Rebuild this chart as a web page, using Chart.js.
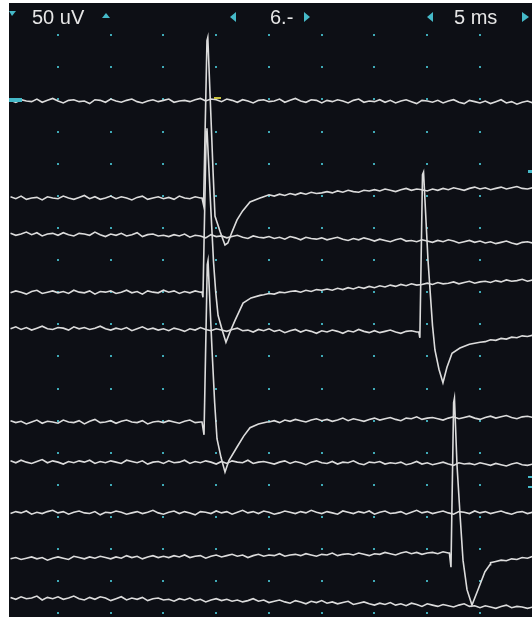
<!DOCTYPE html>
<html>
<head>
<meta charset="utf-8">
<script src="https://cdn.jsdelivr.net/npm/chart.js"></script>
<style>
  html, body { margin: 0; padding: 0; background: #ffffff; }
  canvas { display: block; }
</style>
</head>
<body>
<canvas id="emg" width="532" height="617"></canvas>
<script>
// header readouts of the recorder
const sensLabel = '50 uV';
const traceLabel = '6.-';
const sweepLabel = '5 ms';

const UV_PER_DIV = 50;     // vertical sensitivity
const MS_PER_DIV = 5;      // sweep speed
const SAMPLE_STEP = 0.5;   // ms between baseline readings (first reading at 0.5 ms)

// baseline position of each trace, in divisions from the bottom grid row
const traceOffsets = [15.95, 12.93, 11.81, 10.00, 8.76, 5.96, 4.71, 3.13, 1.76, 0.48];

// baseline readings in uV, every 0.5 ms (null = see spike detail below)
const trace1 = [
  1, -2, 2, 0, -1, 3, -2, 1, 4, 0,
  -3, 1, 2, -1, 0, -4, 2, 1, -2, 3,
  0, -2, 1, 3, -1, -3, 0, 2, -1, 1,
  3, -2, 0, 1, -1, 2, 4, 0, 3, 2,
  -1, 3, 1, -2, 2, 0, -3, 1, 2, -1,
  0, 3, -2, 1, 4, 0, -2, 2, 1, -3,
  1, -1, 2, 0, -3, 1, 3, -2, 0, -1,
  2, -2, 1, -3, 0, 2, -1, -4, 1, 0,
  -2, 1, -3, 0, 2, -2, -4, 1, -1, -3,
  0, -4, -1, 2, -3, -1, -5, -2, 0, -3
];
const trace2 = [
  2, -1, 3, -2, 0, 1, -3, 2, 0, -1,
  3, 0, -2, 1, 4, -1, 2, -2, 0, 3,
  -1, 2, 0, -3, 1, 3, -2, 0, 2, -1,
  1, -2, 3, 0, -1, 2, 0, null, null, null,
  null, null, null, null, null, null, null, null, 2, 5,
  3, 6, 4, 7, 5, 8, 6, 9, 7, 8,
  10, 8, 11, 9, 12, 10, 9, 12, 11, 13,
  11, 14, 12, 10, 13, 15, 12, 14, 13, 11,
  14, 12, 15, 13, 16, 14, 12, 15, 17, 14,
  16, 13, 15, 17, 14, 16, 18, 15, 14, 16
];
const trace3 = [
  1, -2, 0, 3, -1, 2, -3, 0, 1, -2,
  2, -1, -3, 1, 0, -2, 3, -1, -4, 0,
  -2, 1, -3, -1, 2, -4, -1, 0, -3, -2,
  -4, -1, -3, 0, -5, -2, -3, -6, -1, -4,
  -3, -6, -4, -2, -5, -7, -3, -5, -6, -4,
  -7, -5, -8, -4, -6, -9, -5, -7, -8, -6,
  -9, -7, -5, -8, -10, -7, -9, -6, -8, -11,
  -8, -10, -12, -9, -7, -11, -10, -12, -9, -11,
  -13, -10, -12, -9, -11, -14, -12, -10, -13, -11,
  -14, -12, -15, -13, -11, -14, -16, -13, -12, -14
];
const trace4 = [
  -1, 2, 0, -3, 1, 3, -2, 0, 2, -1,
  1, -2, 3, 0, -1, 2, -3, 1, 0, 2,
  -2, 0, 3, -1, 1, -3, 2, 0, -1, 3,
  0, 2, -2, 1, -1, 2, 0, null, null, null,
  null, null, null, null, null, null, null, null, -4, -2,
  -3, 0, -1, 1, 2, 0, 3, 1, 4, 3,
  5, 3, 6, 4, 7, 5, 8, 6, 9, 7,
  10, 8, 11, 9, 12, 10, 13, 11, 12, 14,
  12, 15, 13, 14, 16, 13, 15, 17, 14, 16,
  17, 15, 18, 16, 19, 17, 18, 20, 17, 19
];
const trace5 = [
  5, 8, 4, 7, 3, 6, 9, 5, 4, 7,
  6, 3, 8, 5, 7, 4, 6, 9, 5, 3,
  6, 4, 7, 2, 5, 8, 4, 6, 3, 5,
  2, 6, 4, 1, 5, 3, 7, 4, 2, 5,
  3, 1, 4, 6, 2, 3, 0, 4, 2, 5,
  1, 3, -1, 2, 4, 0, 3, 1, -2, 2,
  0, 3, 1, -2, 2, 0, 4, 1, -1, 2,
  -1, 1, 3, 0, -2, 1, 2, 0, null, null,
  null, null, null, null, null, null, null, null, null, null,
  -15, -12, -13, -10, -11, -8, -9, -6, -7, -5
];
const trace6 = [
  2, -1, 1, -3, 0, 3, -2, 1, 0, -2,
  3, 0, -1, 2, -3, 1, 4, -1, 0, 2,
  -2, 1, 3, 0, -1, 2, -3, 0, 1, -1,
  2, 0, -2, 1, 3, -1, 0, null, null, null,
  null, null, null, null, null, null, null, null, null, 0,
  2, -1, 3, 1, 4, 2, 0, 3, 5, 2,
  4, 1, 3, 6, 2, 5, 3, 1, 4, 6,
  3, 5, 7, 4, 2, 6, 5, 8, 4, 6,
  7, 5, 3, 6, 8, 5, 7, 9, 6, 4,
  7, 9, 6, 8, 10, 7, 5, 8, 9, 7
];
const trace7 = [
  2, -1, 3, 0, -2, 1, 4, -1, 2, 0,
  -3, 1, -1, 2, 0, 3, -2, 1, -1, 2,
  0, -2, 3, 1, -1, 2, -3, 0, 1, -2,
  2, -1, 0, 3, -2, 1, -1, 2, 0, -3,
  1, -2, 2, 0, -1, 3, -2, 0, 1, -1,
  -3, 0, 2, -2, 1, -1, -4, 0, 2, -1,
  -2, 1, -3, 0, -1, 2, -2, -4, 0, -1,
  1, -3, -1, -2, 0, -4, -2, 1, -3, -1,
  -4, -2, 0, -3, -5, -1, -3, -2, -4, -1,
  -3, -5, -2, -4, -6, -3, -1, -4, -5, -3
];
const trace8 = [
  -1, 2, 0, 3, -2, 1, -1, 2, 4, 0,
  2, -2, 1, 3, 0, -1, 2, -3, 1, 0,
  3, 1, -2, 0, 2, -1, 1, 4, 0, -2,
  1, 3, -1, 2, 0, -3, 2, 1, -1, 3,
  0, 2, -2, 1, 4, 0, 2, -1, 3, 1,
  -2, 0, 3, 1, -1, 2, 0, 4, 1, -1,
  2, 0, -2, 3, 1, -1, 2, 0, 3, -2,
  1, 3, -1, 0, 2, -2, 1, 4, 0, 2,
  -1, 1, 3, 0, -2, 2, 1, -1, 3, 0,
  2, -1, 1, 3, 0, -2, 1, 2, -1, 1
];
const trace9 = [
  -3, -1, -4, -2, 0, -3, -1, -5, -2, 0,
  -2, -4, 1, -1, -3, 0, -2, 1, -1, -3,
  0, -2, 2, -1, 1, -3, 0, 2, -1, 1,
  -1, 2, 0, 3, -1, 1, 2, -2, 1, 3,
  0, 2, 4, 1, 3, -1, 2, 4, 1, 3,
  2, 5, 1, 3, 4, 2, 5, 3, 1, 4,
  3, 6, 2, 4, 5, 3, 6, 4, 2, 5,
  4, 7, 5, 3, 6, 8, 5, 7, 4, 6,
  7, 5, 8, 6, null, null, null, null, null, null,
  null, -9, -7, -5, -6, -3, -4, -1, -2, 1
];
const trace10 = [
  1, -2, 2, -1, 0, 3, -3, 1, -1, 2,
  -2, 0, 3, -1, -3, 1, -2, 2, 0, -4,
  -1, 2, -3, 0, -2, 1, -4, -1, 0, -3,
  -2, -5, -1, -3, 0, -4, -2, -6, -3, -1,
  -4, -2, -5, -3, -6, -4, -1, -5, -3, -7,
  -5, -3, -6, -8, -4, -6, -9, -5, -7, -4,
  -8, -6, -9, -7, -5, -10, -8, -6, -9, -11,
  -8, -10, -7, -11, -9, -12, -8, -10, -13, -9,
  -11, -13, -10, -12, -14, -11, -9, -13, -12, -15,
  -12, -14, -16, -13, -11, -15, -13, -14, -16, -14
];

// fine readings through each response: [ms, uV]
const spike2 = [[18.65, 0], [18.8, -11], [19.12, 245], [19.2, 250], [19.5, 125], [19.7, 40], [19.88, -28],
  [20.36, -52], [20.83, -73], [21.1, -70], [21.49, -53], [21.97, -34], [22.5, -20], [23.2, -6], [24.15, 0]];
const spike4 = [[18.65, 0], [18.74, -8], [19.05, 250], [19.12, 255], [19.5, 125], [19.75, 45], [19.95, 0],
  [20.17, -36], [20.55, -58], [20.92, -78], [21.3, -62], [21.78, -44], [22.54, -17], [23.3, -9], [24.15, -5]];
const spike5 = [[39.2, 0], [39.3, -9], [39.55, 245], [39.65, 249], [40.07, 112], [40.5, 10],
  [40.73, -28], [41.11, -58], [41.49, -79], [41.87, -55], [42.35, -33], [43.1, -25], [44.0, -19], [45.0, -16]];
const spike6 = [[18.65, 0], [18.84, -20], [19.15, 245], [19.22, 251], [19.6, 112], [19.85, 30], [20.07, -26],
  [20.45, -55], [20.83, -78], [21.2, -60], [21.97, -39], [22.6, -22], [23.2, -9], [24.0, -3], [24.81, 0]];
const spike9 = [[42.1, 6], [42.25, -16], [42.5, 240], [42.58, 247], [42.82, 143], [43.1, 68],
  [43.39, -5], [43.77, -51], [44.24, -75], [44.81, -51], [45.47, -23], [45.95, -12]];

const traces = [trace1, trace2, trace3, trace4, trace5, trace6, trace7, trace8, trace9, trace10];
const spikes = [null, spike2, null, spike4, spike5, spike6, null, null, spike9, null];

function buildTrace(samples, spike, offset) {
  const pts = [];
  samples.forEach((v, i) => {
    if (v !== null) pts.push([SAMPLE_STEP * (i + 1), v]);
  });
  if (spike) spike.forEach(p => pts.push(p));
  pts.sort((a, b) => a[0] - b[0]);
  return pts.map(p => ({ x: p[0], y: offset + p[1] / UV_PER_DIV }));
}

const datasets = traces.map((tr, i) => ({
  data: buildTrace(tr, spikes[i], traceOffsets[i]),
  borderColor: '#dcdcdc',
  borderWidth: 1.6,
  pointRadius: 0,
  tension: 0,
  fill: false
}));

const scopePlugin = {
  id: 'scope',
  beforeDraw(chart) {
    const { ctx, chartArea: a, scales: { x, y } } = chart;
    ctx.save();
    ctx.fillStyle = '#ffffff';
    ctx.fillRect(0, 0, chart.width, chart.height);
    ctx.fillStyle = '#0d0f15';
    ctx.fillRect(a.left, a.top, a.right - a.left, a.bottom - a.top);
    // grid dots
    ctx.fillStyle = '#3fa9b6';
    for (let i = 0; i <= 10; i++) {
      const px = x.getPixelForValue(i * MS_PER_DIV);
      if (px < a.left + 2 || px > a.right - 1) continue;
      for (let j = 0; j <= 18; j++) {
        const py = y.getPixelForValue(j);
        ctx.fillRect(Math.round(px) - 1, Math.round(py) - 1, 2, 2);
      }
    }
    ctx.restore();
  },
  afterDraw(chart) {
    const { ctx } = chart;
    ctx.save();
    ctx.fillStyle = '#e6e6e6';
    ctx.font = '20px "Liberation Sans", Arial, sans-serif';
    ctx.textBaseline = 'alphabetic';
    ctx.fillText(sensLabel, 32, 24);
    ctx.fillText(traceLabel, 270, 24);
    ctx.fillText(sweepLabel, 454, 24);

    ctx.fillStyle = '#45b9c8';
    const tri = pts => {
      ctx.beginPath();
      ctx.moveTo(pts[0], pts[1]);
      ctx.lineTo(pts[2], pts[3]);
      ctx.lineTo(pts[4], pts[5]);
      ctx.closePath();
      ctx.fill();
    };
    tri([9, 11, 16, 11, 12, 16]);
    tri([102, 18, 110, 18, 106, 13]);
    tri([230, 17, 236, 12, 236, 22]);
    tri([304, 12, 304, 22, 310, 17]);
    tri([427, 17, 433, 12, 433, 22]);
    tri([522, 12, 522, 22, 529, 17]);
    // trace markers
    ctx.fillRect(9, 98, 13, 4);
    ctx.fillRect(528, 170, 4, 3);
    ctx.fillRect(528, 476, 4, 2);
    ctx.fillRect(528, 486, 4, 2);
    ctx.fillStyle = '#c9c23e';
    ctx.fillRect(214, 97, 7, 2);
    ctx.restore();
  }
};

new Chart(document.getElementById('emg'), {
  type: 'line',
  data: { datasets: datasets },
  options: {
    responsive: false,
    animation: false,
    devicePixelRatio: 1,
    events: [],
    layout: { padding: { left: 9, top: 3, right: 0, bottom: 0 } },
    plugins: { legend: { display: false }, tooltip: { enabled: false } },
    scales: {
      x: { type: 'linear', min: 0.355, max: 49.93, display: false },
      y: { type: 'linear', min: -0.11, max: 19, display: false }
    }
  },
  plugins: [scopePlugin]
});
</script>
</body>
</html>
